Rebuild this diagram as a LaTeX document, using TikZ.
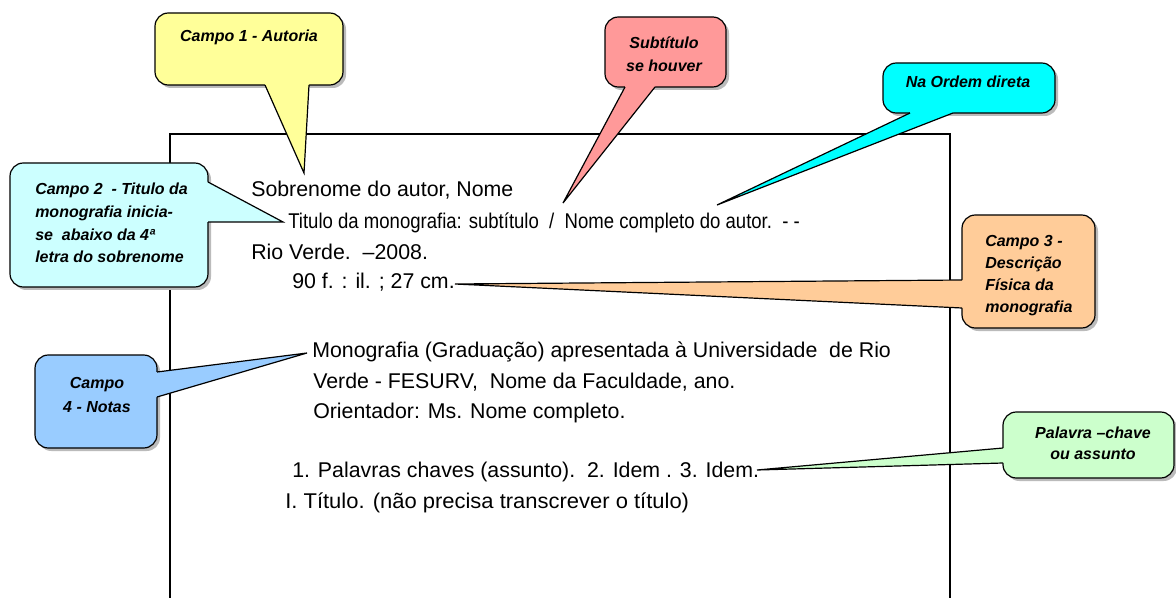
\documentclass[tikz,border=0pt]{standalone}
\usepackage{fontspec}
\setmainfont{Liberation Sans}
\definecolor{cyel}{HTML}{FFFF99}
\definecolor{cpink}{HTML}{FF9999}
\definecolor{ccyan}{HTML}{00FFFF}
\definecolor{clcyan}{HTML}{CCFFFF}
\definecolor{corange}{HTML}{FFCC99}
\definecolor{cblue}{HTML}{99CCFF}
\definecolor{cgreen}{HTML}{CCFFCC}
\definecolor{cshadow}{HTML}{BBBBBB}
\begin{document}
\begin{tikzpicture}[x=0.75pt,y=-0.75pt,
  bubble/.style={draw=black,line width=0.9pt,rounded corners=10pt},
  shadowbox/.style={fill=cshadow,rounded corners=10pt},
  tailline/.style={draw=black,line width=0.9pt},
  body/.style={anchor=base west,inner sep=0pt,font=\fontsize{16}{19}\selectfont},
  note/.style={inner sep=0pt,font=\fontsize{12}{17}\selectfont\bfseries\itshape},
  page/.style={draw=black,line width=1pt}]
\useasboundingbox (0,0) rectangle (1176,598);
% page frame
\coordinate (pbl) at (170,605);
\coordinate (ptl) at (170,134);
\coordinate (ptr) at (950,134);
\coordinate (pbr) at (950,605);
\draw[page] (pbl) -- (ptl) -- (ptr) -- (pbr);
% body text
\node[body] (t1) at (251,197) {Sobrenome do autor, Nome};
\node[body] (t2) at (288,229) {\scalebox{0.87}[1]{Titulo da\ monografia: subtítulo\ \ /\ \ Nome completo do autor.\ \ - -}};
\node[body] (t3) at (251,260) {Rio Verde.\ \ –2008.};
\node[body] (t4) at (292,289) {90 f. : il. ; 27 cm.};
\node[body] (t5) at (312,357) {Monografia (Graduação) apresentada à Universidade\ \ de Rio};
\node[body] (t6) at (313,388) {Verde - FESURV,\ \ Nome da Faculdade, ano.};
\node[body] (t7) at (313,418) {Orientador: Ms. Nome completo.};
\node[body] (t8) at (292,477) {1. Palavras chaves (assunto).\ \ 2. Idem . 3. Idem.};
\node[body] (t9) at (285,508) {\scalebox{1.03}[1]{I. Título. (não precisa transcrever o título)}};
% tail tips
\coordinate (tipA) at (304,173);
\coordinate (tipB) at (563,203);
\coordinate (tipC) at (717,205);
\coordinate (tipD) at (283,222);
\coordinate (tipE) at (455,284);
\coordinate (tipF) at (307,353);
\coordinate (tipG) at (757,470);
% Campo 1 - yellow
\fill[shadowbox] (158,16) rectangle (346,88);
\draw[bubble,fill=cyel] (155,13) rectangle (343,85);
\fill[cyel] (265,85) -- (tipA) -- (309,85) -- (309,79) -- (265,79) -- cycle;
\draw[tailline] (265,85) -- (tipA) -- (309,85);
\node[note,anchor=base] (nA) at (249,42) {Campo 1 - Autoria};
% Subtitulo - pink
\fill[shadowbox] (608,20) rectangle (729,90);
\draw[bubble,fill=cpink] (605,17) rectangle (726,87);
\fill[cpink] (625,87) -- (tipB) -- (655,87) -- (655,81) -- (625,81) -- cycle;
\draw[tailline] (625,87) -- (tipB) -- (655,87);
\node[note,align=center] (nB) at (664,54) {Subtítulo\\se houver};
% Na Ordem direta - cyan
\fill[shadowbox] (886,66) rectangle (1058,116);
\draw[bubble,fill=ccyan] (883,63) rectangle (1055,113);
\fill[ccyan] (910,113) -- (tipC) -- (953,113) -- (953,107) -- (910,107) -- cycle;
\draw[tailline] (910,113) -- (tipC) -- (953,113);
\node[note,anchor=base] (nC) at (968,88) {Na Ordem direta};
% Campo 2 - light cyan
\fill[shadowbox] (13,166) rectangle (211,290);
\draw[bubble,fill=clcyan] (10,163) rectangle (208,287);
\fill[clcyan] (208,182) -- (tipD) -- (208,222) -- (202,222) -- (202,182) -- cycle;
\draw[tailline] (208,182) -- (tipD) -- (208,222);
\node[note,align=left,anchor=west] (nD) at (35,223) {Campo 2\ \ - Titulo da\\monografia inicia-\\se\ \ abaixo da 4ª\\letra do sobrenome};
% Campo 3 - orange
\fill[shadowbox] (965,218) rectangle (1098,331);
\draw[bubble,fill=corange] (962,215) rectangle (1095,328);
\fill[corange] (962,280) -- (tipE) -- (962,308) -- (968,308) -- (968,280) -- cycle;
\draw[tailline] (962,280) -- (tipE) -- (962,308);
\node[note,align=left,anchor=west,font=\fontsize{12}{16.5}\selectfont\bfseries\itshape] (nE) at (985,276) {Campo 3 -\\Descrição\\Física da\\monografia};
% Campo 4 - blue
\fill[shadowbox] (38,358) rectangle (160,451);
\draw[bubble,fill=cblue] (35,355) rectangle (157,448);
\fill[cblue] (157,372) -- (tipF) -- (157,397) -- (151,397) -- (151,372) -- cycle;
\draw[tailline] (157,372) -- (tipF) -- (157,397);
\node[note,align=center,font=\fontsize{12}{18.5}\selectfont\bfseries\itshape] (nF) at (97,395) {Campo\\4 - Notas};
% Palavra-chave - green
\fill[shadowbox] (1006,415) rectangle (1177,481);
\draw[bubble,fill=cgreen] (1003,412) rectangle (1174,478);
\fill[cgreen] (1003,448) -- (tipG) -- (1003,463) -- (1009,463) -- (1009,448) -- cycle;
\draw[tailline] (1003,448) -- (tipG) -- (1003,463);
\node[note,align=center,font=\fontsize{12}{16}\selectfont\bfseries\itshape] (nG) at (1093,443) {Palavra –chave\\ou assunto};
\end{tikzpicture}
\end{document}
